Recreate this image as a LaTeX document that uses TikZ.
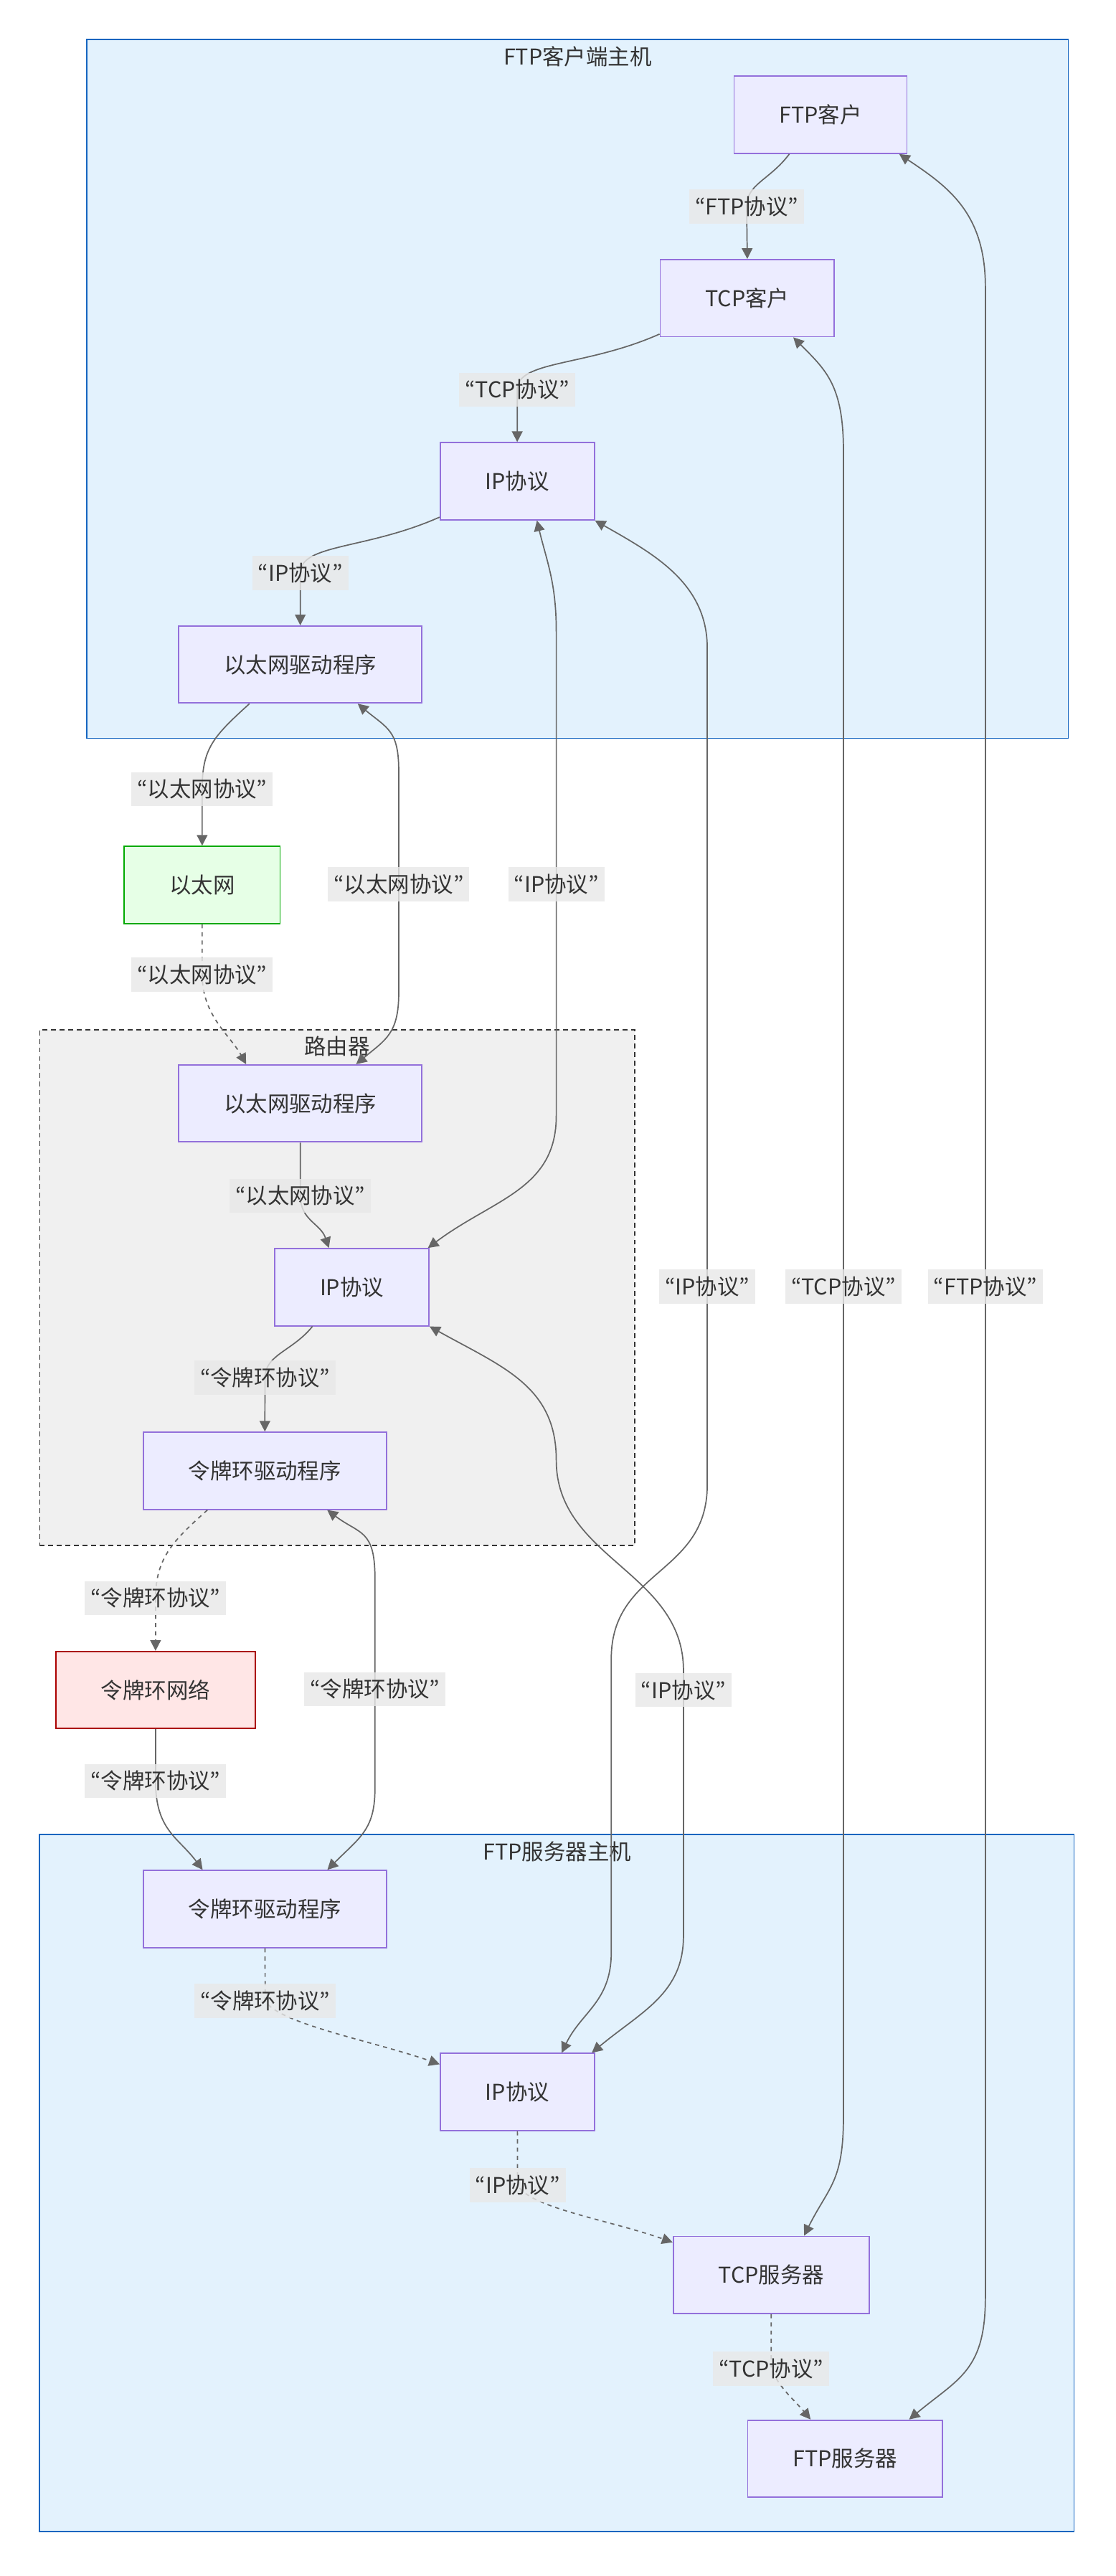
\documentclass[tikz,border=0pt]{standalone}
\usepackage{fontspec}
\setmainfont{Noto Sans CJK SC}
\newfontfamily\qfont{Noto Sans CJK JP}
\usetikzlibrary{arrows.meta}
\definecolor{hostfill}{HTML}{E3F2FD}
\definecolor{hostline}{HTML}{1565C0}
\definecolor{routerfill}{HTML}{F0F0F0}
\definecolor{routerline}{HTML}{333333}
\definecolor{boxfill}{HTML}{ECECFF}
\definecolor{boxline}{HTML}{9370DB}
\definecolor{ethfill}{HTML}{E6FFE6}
\definecolor{ethline}{HTML}{00AA00}
\definecolor{trfill}{HTML}{FFE6E6}
\definecolor{trline}{HTML}{AA0000}
\definecolor{labfill}{HTML}{E8E8E8}
\definecolor{edgegray}{HTML}{666666}
\definecolor{txtgray}{HTML}{333333}
\newcommand{\qt}[1]{{\qfont “}#1{\qfont ”}}

\begin{document}
\begin{tikzpicture}[x=1pt,y=-1pt,>={Triangle[length=6.5pt,width=6.5pt]}]
\tikzstyle{every node}=[font=\fontsize{13.3}{16}\selectfont, text=txtgray]
\tikzstyle{host}=[draw=hostline, fill=hostfill, line width=0.8pt]
\tikzstyle{router}=[draw=routerline, fill=routerfill, line width=0.8pt, dash pattern=on 3pt off 2.2pt]
\tikzstyle{ttl}=[inner sep=0pt, text height=11.5pt, text depth=1.5pt]
\tikzstyle{box}=[draw=boxline, fill=boxfill, line width=0.8pt, minimum height=47pt, inner xsep=27.5pt, text height=11.5pt, text depth=1.5pt]
\tikzstyle{lab}=[fill=labfill, fill opacity=0.8, text opacity=1, inner xsep=3.5pt, inner ysep=3.9pt, text height=11.5pt, text depth=1.5pt]
\tikzstyle{link}=[draw=edgegray, line width=0.75pt, ->]
\tikzstyle{both}=[link, <->]
\tikzstyle{dotlink}=[link, dash pattern=on 2.5pt off 2.5pt]

\fill[white] (0,0) rectangle (680,1570);
\useasboundingbox (0,0) rectangle (680,1570);

\node[host, minimum width=598pt, minimum height=426pt] (client) at (352,237) {};
\node[ttl] (clientt) at (352,34.5) {FTP客户端主机};
\node[router, minimum width=362.5pt, minimum height=314.5pt] (router) at (205.5,784.75) {};
\node[ttl] (routert) at (205.5,637.7) {路由器};
\node[host, minimum width=630.5pt, minimum height=425pt] (server) at (339.25,1330.5) {};
\node[ttl] (servert) at (339.5,1128.5) {FTP服务器主机};

\node[box] (ftpc) at (500,70) {FTP客户};
\node[box] (tcpc) at (455.4,181.7) {TCP客户};
\node[box] (ipc) at (315.2,293.3) {IP协议};
\node[box] (ethc) at (183,405) {以太网驱动程序};
\node[box, fill=ethfill, draw=ethline] (eth) at (123.2,539.3) {以太网};
\node[box] (ethr) at (183,672.5) {以太网驱动程序};
\node[box] (ipr) at (214.4,784.5) {IP协议};
\node[box] (trr) at (161.4,896.4) {令牌环驱动程序};
\node[box, fill=trfill, draw=trline] (trn) at (94.8,1030) {令牌环网络};
\node[box] (trs) at (161.5,1163.5) {令牌环驱动程序};
\node[box] (ips) at (315.3,1275) {IP协议};
\node[box] (tcps) at (470,1386.5) {TCP服务器};
\node[box] (ftps) at (515,1498.5) {FTP服务器};

\draw[link] ([xshift=-19pt]ftpc.south) .. controls +(-12,16) and +(0,-14) .. (455,126) node[lab] (l1) {\qt{FTP协议}} -- (tcpc.north);
\draw[link] ([yshift=2pt]tcpc.south west) .. controls +(-45,20) and +(0,-18) .. (315.2,237.5) node[lab] (l2) {\qt{TCP协议}} -- (ipc.north);
\draw[link] ([yshift=2pt]ipc.south west) .. controls +(-45,20) and +(0,-18) .. (183,349.3) node[lab] (l3) {\qt{IP协议}} -- (ethc.north);
\draw[link] ([xshift=-31pt]ethc.south) .. controls +(-22,20) and +(0,-25) .. (123.2,481) node[lab] (l4) {\qt{以太网协议}} -- (eth.north);
\draw[dotlink] (eth.south) -- (123.2,594) node[lab] (l5) {\qt{以太网协议}} .. controls +(0,25) and +(-10,-18) .. ([xshift=-33pt]ethr.north);
\draw[both] ([xshift=35pt]ethc.south) .. controls +(18,15) and +(0,-25) .. (243,470) -- (243,539) node[lab] (l6) {\qt{以太网协议}} -- (243,605) .. controls +(0,25) and +(18,-15) .. ([xshift=34pt]ethr.north);
\draw[both] ([xshift=12pt]ipc.south) .. controls +(6,25) and +(0,-30) .. (339,385) -- (339,539) node[lab] (l7) {\qt{IP协议}} -- (339,680) .. controls +(0,45) and +(40,-30) .. ([xshift=-1pt]ipr.north east);
\draw[both] (ipc.south east) .. controls +(35,20) and +(0,-40) .. (431,395) -- (431,784) node[lab] (l8) {\qt{IP协议}} -- (431,905) .. controls +(0,55) and +(0,-55) .. (372.5,1011) -- (372.5,1190) .. controls +(0,30) and +(12,-25) .. ([xshift=27pt]ips.north);
\draw[both] (ipr.south east) .. controls +(45,25) and +(0,-45) .. (339,890) .. controls +(0,60) and +(0,-60) .. (416.5,1018) -- (416.5,1030) node[lab] (l9) {\qt{IP协议}} -- (416.5,1180) .. controls +(0,35) and +(30,-25) .. ([xshift=-2pt]ips.north east);
\draw[both] ([xshift=28pt]tcpc.south) .. controls +(20,20) and +(0,-40) .. (514,275) -- (514,784) node[lab] (l10) {\qt{TCP协议}} -- (514,1290) .. controls +(0,40) and +(15,-30) .. ([xshift=20pt]tcps.north);
\draw[both] ([xshift=48pt]ftpc.south) .. controls +(30,20) and +(0,-45) .. (600.5,175) -- (600.5,784) node[lab] (l11) {\qt{FTP协议}} -- (600.5,1400) .. controls +(0,45) and +(30,-25) .. ([xshift=39pt]ftps.north);
\draw[link] (ethr.south) -- (183,728.8) node[lab] (l12) {\qt{以太网协议}} .. controls +(0,15) and +(-5,-15) .. ([xshift=-14pt]ipr.north);
\draw[link] ([xshift=-24pt]ipr.south) .. controls +(-12,15) and +(0,-14) .. (161.5,839.6) node[lab] (l13) {\qt{令牌环协议}} -- (trr.north);
\draw[dotlink] ([xshift=-35pt]trr.south) .. controls +(-20,18) and +(0,-25) .. (94.8,974) node[lab] (l14) {\qt{令牌环协议}} -- (trn.north);
\draw[both] ([xshift=38pt]trr.south) .. controls +(20,15) and +(0,-30) .. (228.5,962) -- (228.5,1029.5) node[lab] (l15) {\qt{令牌环协议}} -- (228.5,1090) .. controls +(0,25) and +(20,-20) .. ([xshift=38pt]trs.north);
\draw[link] (trn.south) -- (94.8,1085.5) node[lab] (l16) {\qt{令牌环协议}} .. controls +(0,30) and +(-15,-20) .. ([xshift=-38pt]trs.north);
\draw[dotlink] (trs.south) -- (161.6,1219.4) node[lab] (l17) {\qt{令牌环协议}} .. controls +(8,14) and +(-40,-14) .. ([yshift=-7pt]ips.north west);
\draw[dotlink] (ips.south) -- (315.4,1331.8) node[lab] (l18) {\qt{IP协议}} .. controls +(8,14) and +(-40,-14) .. ([yshift=-4pt]tcps.north west);
\draw[dotlink] (tcps.south) -- (470,1443.6) node[lab] (l19) {\qt{TCP协议}} .. controls +(5,12) and +(-10,-12) .. ([xshift=-21pt]ftps.north);
\end{tikzpicture}
\end{document}
